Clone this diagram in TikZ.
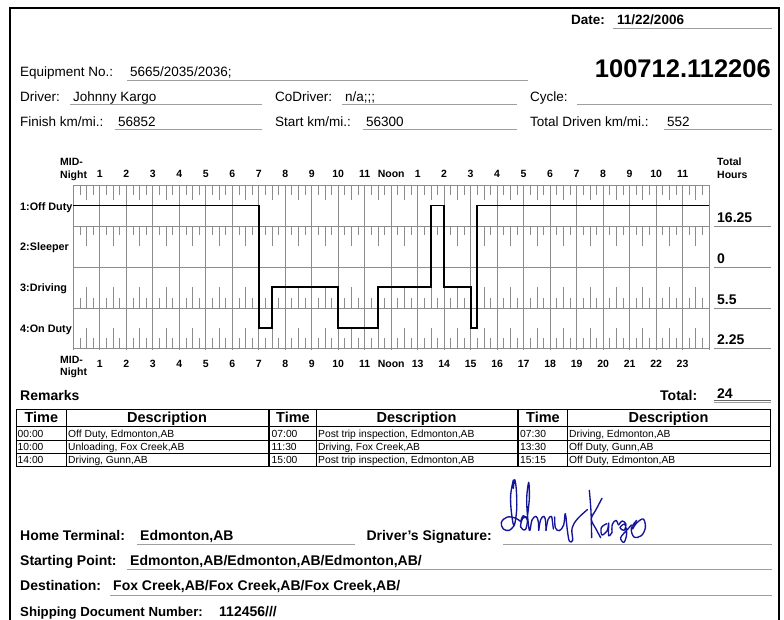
\documentclass[tikz,border=0pt]{standalone}
\usepackage{fontspec}
\setmainfont{Liberation Sans}
\definecolor{gridc}{gray}{0.55}
\definecolor{ulc}{gray}{0.62}
\definecolor{sigc}{RGB}{20,20,150}
\begin{document}
\begin{tikzpicture}[x=1pt,y=-1pt,
  txt/.style={anchor=base west, inner sep=0pt, font=\fontsize{13.5}{16}\selectfont},
  btxt/.style={anchor=base west, inner sep=0pt, font=\bfseries\fontsize{13.5}{16}\selectfont},
  bbig/.style={anchor=base west, inner sep=0pt, font=\bfseries\fontsize{14}{16}\selectfont},
  sb/.style={inner sep=0pt, font=\bfseries\fontsize{10.5}{12.5}\selectfont},
  rowlab/.style={anchor=base west, inner sep=0pt, font=\bfseries\fontsize{10.8}{12}\selectfont},
  tot/.style={anchor=base west, inner sep=0pt, font=\bfseries\fontsize{14}{16}\selectfont},
  th/.style={anchor=base, inner sep=0pt, font=\bfseries\fontsize{14.5}{16}\selectfont},
  td/.style={anchor=base west, inner sep=0pt, font=\fontsize{10.3}{12}\selectfont},
  ul/.style={draw=ulc, line width=0.9pt},
  gridline/.style={draw=gridc, line width=0.7pt},
  tick/.style={draw=gridc, line width=0.7pt},
  duty/.style={draw=black, line width=1.8pt},
  frame/.style={draw=black, line width=2.4pt},
  tbl/.style={draw=black, line width=0.8pt},
  tblthick/.style={draw=black, line width=2.6pt},
  sig/.style={draw=sigc, line width=1.35pt, line cap=round, line join=round}]
\useasboundingbox (0,0) rectangle (784,619);
\fill[white] (0,0) rectangle (784,619);
% frame
\draw[frame] (10,640) -- (10,8) -- (779,8) -- (779,640);
% header
\node[btxt] (datel) at (571,24) {Date:};
\node[btxt] (datev) at (617,24) {11/22/2006};
\draw[ul] (613,28) -- (772,28);
\node[anchor=base east, inner sep=0pt, font=\bfseries\fontsize{25.5}{28}\selectfont] (num) at (771,77) {100712.112206};
\node[txt] (eq) at (20,76.5) {Equipment No.:};
\node[txt] (eqv) at (130,76.5) {5665/2035/2036;};
\draw[ul] (127,80) -- (528,80);
\node[txt] (drv) at (20,101.5) {Driver:};
\node[txt] (drvv) at (73,101.5) {Johnny Kargo};
\draw[ul] (70,104.5) -- (262,104.5);
\node[txt] (codrv) at (275,101.5) {CoDriver:};
\node[txt] (codrvv) at (345,101.5) {n/a;;;};
\draw[ul] (342,104.5) -- (517,104.5);
\node[txt] (cyc) at (530,101.5) {Cycle:};
\draw[ul] (577,104.5) -- (772,104.5);
\node[txt] (fin) at (20,126.5) {Finish km/mi.:};
\node[txt] (finv) at (118,126.5) {56852};
\draw[ul] (115,129.5) -- (262,129.5);
\node[txt] (st) at (275,126.5) {Start km/mi.:};
\node[txt] (stv) at (366,126.5) {56300};
\draw[ul] (363,129.5) -- (517,129.5);
\node[txt] (td) at (530,126.5) {Total Driven km/mi.:};
\node[txt] (tdv) at (667,126.5) {552};
\draw[ul] (664,129.5) -- (772,129.5);
% grid
\begin{scope}[shift={(73.3,0)}, x=26.49pt]
  \foreach \yy in {185,226,267,308,348} \draw[gridline] (0,\yy) -- (24,\yy);
  \foreach \h in {0,...,24} \draw[gridline] (\h,185) -- (\h,350);
  \foreach \h in {0,...,23} {
    \draw[tick] (\h+0.25,185) -- (\h+0.25,195) (\h+0.5,185) -- (\h+0.5,200) (\h+0.75,185) -- (\h+0.75,195);
    \draw[tick] (\h+0.25,226) -- (\h+0.25,235) (\h+0.5,226) -- (\h+0.5,246) (\h+0.75,226) -- (\h+0.75,235);
    \draw[tick] (\h+0.25,308) -- (\h+0.25,298) (\h+0.5,308) -- (\h+0.5,287) (\h+0.75,308) -- (\h+0.75,298);
    \draw[tick] (\h+0.25,348) -- (\h+0.25,338) (\h+0.5,348) -- (\h+0.5,328) (\h+0.75,348) -- (\h+0.75,338);
  }
  \draw[duty] (0,205.5) -- (7,205.5) -- (7,328) -- (7.5,328) -- (7.5,287) -- (10,287) -- (10,328)
    -- (11.5,328) -- (11.5,287) -- (13.5,287) -- (13.5,205.5) -- (14,205.5) -- (14,287) -- (15,287)
    -- (15,328) -- (15.25,328) -- (15.25,205.5) -- (24,205.5);
  % top hour labels
  \foreach \h in {1,...,11} \node[sb, anchor=base] (ht\h) at (\h,177.7) {\h};
  \node[sb, anchor=base] (htnoon) at (12,177.7) {Noon};
  \foreach \h [evaluate=\h as \k using int(\h-12)] in {13,...,23} \node[sb, anchor=base] (ht\h) at (\h,177.7) {\k};
  % bottom hour labels
  \foreach \h in {1,...,11,13,14,15,16,17,18,19,20,21,22,23} \node[sb, anchor=base] (hb\h) at (\h,367.5) {\h};
  \node[sb, anchor=base] (hbnoon) at (12,367.5) {Noon};
\end{scope}
\node[sb, anchor=base west] (midt1) at (60,165.7) {MID-};
\node[sb, anchor=base west] (midt2) at (60,178.3) {Night};
\node[sb, anchor=base west] (midb1) at (60,363.3) {MID-};
\node[sb, anchor=base west] (midb2) at (60,375.5) {Night};
\node[sb, anchor=base west] (toth1) at (717,165.7) {Total};
\node[sb, anchor=base west] (toth2) at (717,178.3) {Hours};
\node[rowlab] (r1) at (20,210) {1:Off Duty};
\node[rowlab] (r2) at (20,250.5) {2:Sleeper};
\node[rowlab] (r3) at (20,291.5) {3:Driving};
\node[rowlab] (r4) at (20,332) {4:On Duty};
\foreach \yy in {226,267,308,348} \draw[gridline] (714,\yy) -- (771,\yy);
\node[tot] (t1) at (717,222.5) {16.25};
\node[tot] (t2) at (717,263.5) {0};
\node[tot] (t3) at (717,304.3) {5.5};
\node[tot] (t4) at (717,344.5) {2.25};
% remarks
\node[bbig] (rem) at (20,400) {Remarks};
\node[bbig] (totl) at (660,400) {Total:};
\node[bbig] (totv) at (717,398.5) {24};
\draw[draw=gray!80!black, line width=0.8pt] (714,400.5) -- (771,400.5);
\draw[ul] (714,402.8) -- (771,402.8);
% table
\draw[tbl] (16.7,409) rectangle (770,466.6);
\foreach \yy in {426.7,440,453.3} \draw[tbl] (16.7,\yy) -- (770,\yy);
\foreach \xx in {66,316,567} \draw[tbl] (\xx,409) -- (\xx,466.6);
\foreach \xx in {269,517.8} \draw[tblthick] (\xx,409) -- (\xx,466.6);
\node[th] (h1) at (41.3,422) {Time};
\node[th] (h2) at (167,422) {Description};
\node[th] (h3) at (293,422) {Time};
\node[th] (h4) at (416.5,422) {Description};
\node[th] (h5) at (543,422) {Time};
\node[th] (h6) at (668.5,422) {Description};
\node[td] (a1) at (17.5,437) {00:00};
\node[td] (a2) at (68,437) {Off Duty, Edmonton,AB};
\node[td] (a3) at (17.5,450.3) {10:00};
\node[td] (a4) at (68,450.3) {Unloading, Fox Creek,AB};
\node[td] (a5) at (17.5,463.6) {14:00};
\node[td] (a6) at (68,463.6) {Driving, Gunn,AB};
\node[td] (b1) at (271.5,437) {07:00};
\node[td] (b2) at (318,437) {Post trip inspection, Edmonton,AB};
\node[td] (b3) at (271.5,450.3) {11:30};
\node[td] (b4) at (318,450.3) {Driving, Fox Creek,AB};
\node[td] (b5) at (271.5,463.6) {15:00};
\node[td] (b6) at (318,463.6) {Post trip inspection, Edmonton,AB};
\node[td] (c1) at (520,437) {07:30};
\node[td] (c2) at (569,437) {Driving, Edmonton,AB};
\node[td] (c3) at (520,450.3) {13:30};
\node[td] (c4) at (569,450.3) {Off Duty, Gunn,AB};
\node[td] (c5) at (520,463.6) {15:15};
\node[td] (c6) at (569,463.6) {Off Duty, Edmonton,AB};
% bottom section
\node[bbig] (home) at (20,540.7) {Home Terminal:};
\node[bbig] (homev) at (140,540.7) {Edmonton,AB};
\draw[ul] (137,544) -- (355,544);
\node[bbig, anchor=base east] (sigl) at (492,540.7) {Driver's Signature:};
\draw[ul] (503,544.5) -- (772,544.5);
\node[bbig] (sp) at (20,565) {Starting Point:};
\node[bbig] (spv) at (130,565) {Edmonton,AB/Edmonton,AB/Edmonton,AB/};
\draw[ul] (127,569) -- (772,569);
\node[bbig] (dest) at (20,590.7) {Destination:};
\node[bbig] (destv) at (113,590.7) {Fox Creek,AB/Fox Creek,AB/Fox Creek,AB/};
\draw[ul] (110,595) -- (772,595);
\node[bbig, font=\bfseries\fontsize{13.2}{16}\selectfont] (ship) at (20,616.7) {Shipping Document Number:};
\node[bbig] (shipv) at (219,616.7) {112456///};
% signature
\begin{scope}[shift={(490,475)}, x=0.3333pt, y=-0.3333pt]
  \draw[sig] plot[smooth, tension=0.6] coordinates {(70,15) (62,60) (64,110) (72,152) (80,105) (79,45) (74,14) (70,40)};
  \draw[sig] plot[smooth, tension=0.6] coordinates {(72,152) (58,166) (40,162) (34,142) (52,126) (78,130) (92,140)};
  \draw[sig] plot[smooth, tension=0.6] coordinates {(92,140) (100,122) (112,135) (106,164) (92,156) (98,130) (112,126)};
  \draw[sig] plot[smooth, tension=0.6] coordinates {(112,126) (118,70) (116,22) (110,80) (118,166) (126,135) (138,124) (145,140) (146,166)};
  \draw[sig] plot[smooth, tension=0.6] coordinates {(146,166) (152,134) (162,124) (167,140) (168,166)};
  \draw[sig] plot[smooth, tension=0.6] coordinates {(168,166) (174,134) (184,124) (188,145) (190,162)};
  \draw[sig] plot[smooth, tension=0.6] coordinates {(194,126) (196,158) (208,167) (221,150) (226,116) (232,165) (238,198) (248,196) (246,160) (262,132) (292,104)};
  \draw[sig] plot[smooth, tension=0.6] coordinates {(298,46) (303,110) (305,188)};
  \draw[sig] plot[smooth, tension=0.6] coordinates {(336,70) (318,104) (304,132) (318,162) (332,188)};
  \draw[sig] plot[smooth, tension=0.6] coordinates {(350,146) (334,158) (336,180) (352,166) (356,144) (356,182) (366,172)};
  \draw[sig] plot[smooth, tension=0.6] coordinates {(366,172) (367,148) (378,136) (384,148)};
  \draw[sig] plot[smooth, tension=0.6] coordinates {(386,150) (397,138) (408,148) (402,166) (390,158) (404,148) (410,176) (402,202) (392,188) (412,164) (424,150)};
  \draw[sig] plot[smooth, tension=0.6] coordinates {(440,136) (424,160) (432,186) (454,182) (466,158) (460,132) (440,144) (428,162)};
\end{scope}
\end{tikzpicture}
\end{document}
